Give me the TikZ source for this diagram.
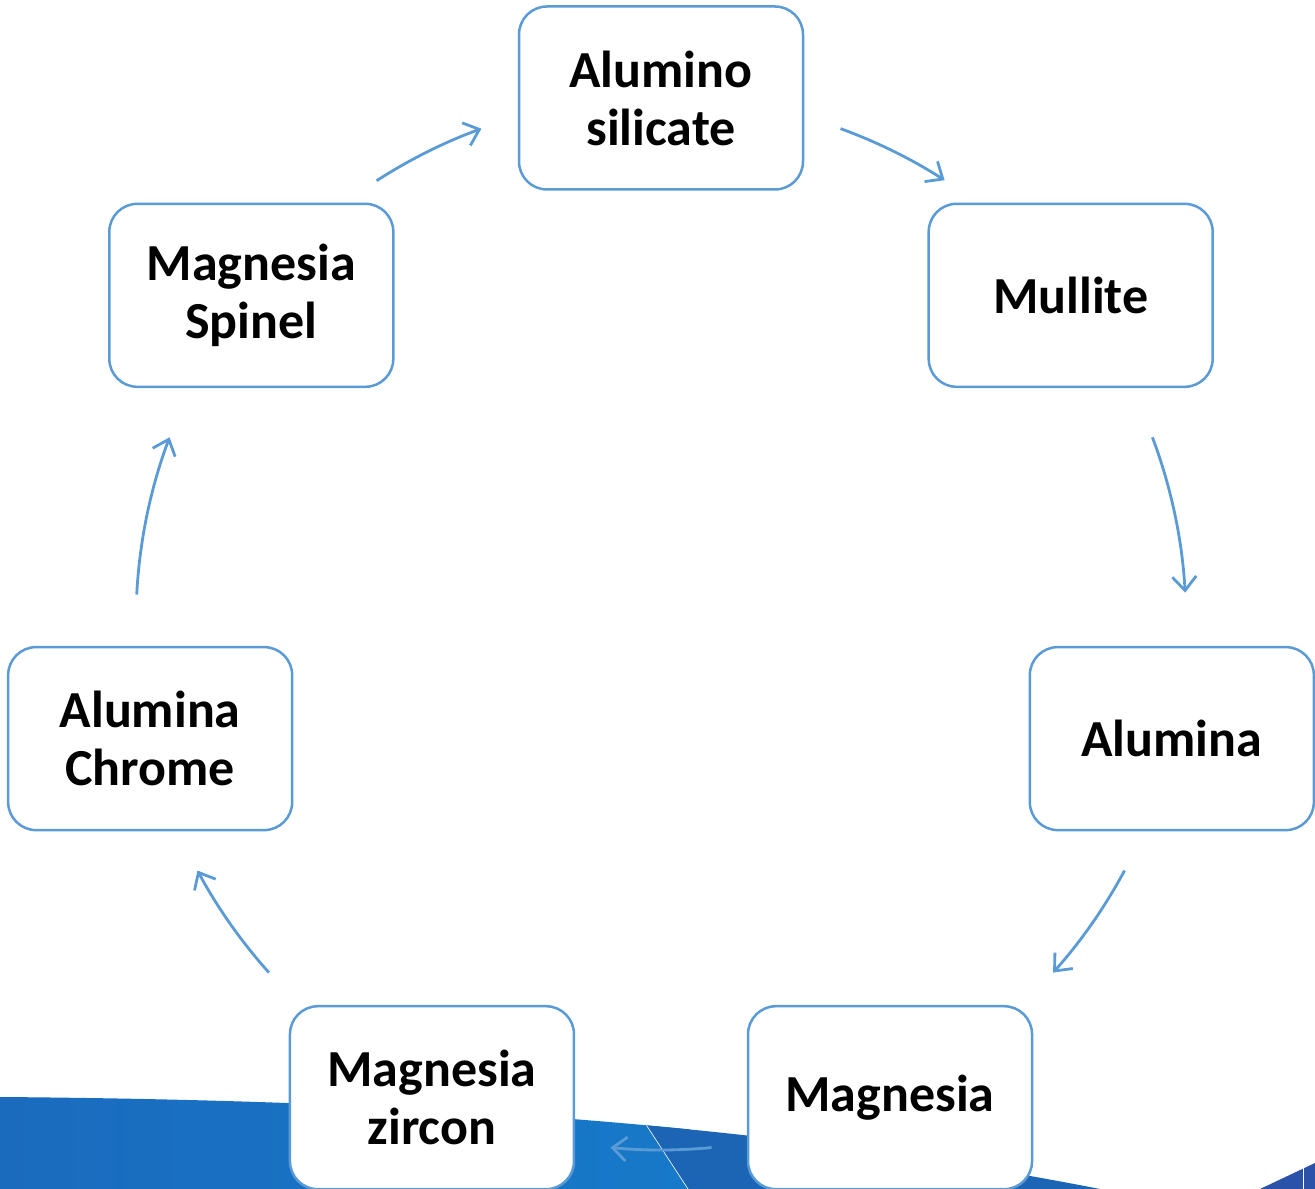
\documentclass[tikz,border=0pt]{standalone}
\usepackage{fontspec}
\setmainfont{Carlito}
\usepackage{tikz}
\usetikzlibrary{arrows.meta,calc,positioning}
\definecolor{boxblue}{HTML}{5B9BD5}
\definecolor{bandleft}{HTML}{1A6BBE}
\definecolor{bandmid}{HTML}{1779C9}
\definecolor{banddark}{HTML}{1C65B5}
\definecolor{cornerblue}{HTML}{2A52A8}
\tikzset{
    material/.style={
                draw=boxblue,
                line width=2.5pt,
                fill=white,
                rounded corners=28pt,
                minimum width=284pt,
                minimum height=183pt,
                inner sep=0pt,
                align=center,
                font=\fontsize{52}{58}\selectfont\bfseries
            },
        cyclearrow/.style={
                draw=boxblue,
                line width=2.8pt,
                -{Straight Barb[length=14pt,width=24pt,line width=2.8pt]}
            },
}

\begin{document}
\begin{tikzpicture}[x=1pt,y=1pt]
  \useasboundingbox (0,0) rectangle (1315,1189);
  \clip (0,0) rectangle (1315,1189);
  % Background band
  \begin{scope}
    \clip (0,0) -- (0,92) .. controls (370,89) and (737,71) .. (1100,0) -- cycle;
    \shade[left color=bandleft,right color=bandmid] (0,0) rectangle (690,92);
    \fill[banddark] (628,92) -- (688,0) -- (1100,0) -- (1100,92) -- cycle;
    \draw[white,line width=0.6pt] (628,92) -- (688,0);
  \end{scope}
  \fill[cornerblue] (1260,0) -- (1315,26) -- (1315,0) -- cycle;
  \draw[white,line width=1pt] (1303,0) -- (1303,22);
  % Materials
  \coordinate (cyc) at (661,567);
  \node[material] (alusil) at ([shift={(90:524)}]cyc) {Alumino\\silicate};
  \node[material] (mullite) at ([shift={(38.57:524)}]cyc) {Mullite};
  \node[material] (alumina) at ([shift={(-12.86:524)}]cyc) {Alumina};
  \node[material] (magnesia) at ([shift={(-64.29:528)}]cyc) {Magnesia};
  \node[material] (magzircon) at ([shift={(-115.71:528)}]cyc) {Magnesia\\zircon};
  \node[material] (alchrome) at ([shift={(-167.14:524)}]cyc) {Alumina\\Chrome};
  \node[material] (magspinel) at ([shift={(141.43:524)}]cyc) {Magnesia\\Spinel};
  % Arrows
  \coordinate (a1s) at ([shift={(70:525)}]cyc);
  \coordinate (a2s) at ([shift={(20.6:525)}]cyc);
  \coordinate (a3s) at ([shift={(-28.2:526)}]cyc);
  \coordinate (a4s) at ([shift={(-84.5:528)}]cyc);
  \coordinate (a5s) at ([shift={(-138.2:526)}]cyc);
  \coordinate (a6s) at ([shift={(177:525)}]cyc);
  \coordinate (a7s) at ([shift={(122.8:525)}]cyc);
  \draw[cyclearrow] (a1s) arc[start angle=70,end angle=57.3,radius=525];
  \draw[cyclearrow] (a2s) arc[start angle=20.6,end angle=3.2,radius=525];
  \draw[cyclearrow] (a3s) arc[start angle=-28.2,end angle=-41.8,radius=526];
  \draw[cyclearrow] (a4s) arc[start angle=-84.5,end angle=-95.5,radius=528];
  \draw[cyclearrow] (a5s) arc[start angle=-138.2,end angle=-151.8,radius=526];
  \draw[cyclearrow] (a6s) arc[start angle=177,end angle=159.4,radius=525];
  \draw[cyclearrow] (a7s) arc[start angle=122.8,end angle=110,radius=525];
\end{tikzpicture}
\end{document}
